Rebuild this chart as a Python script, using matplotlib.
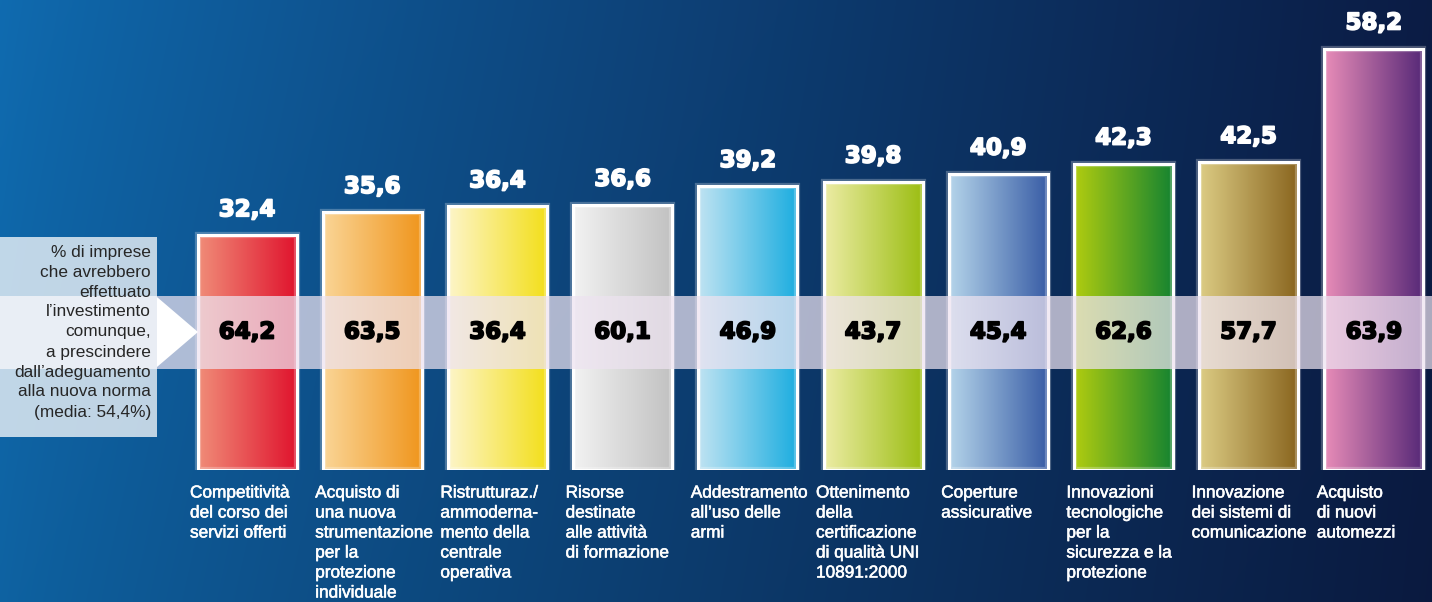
import numpy as np
import matplotlib.pyplot as plt
import matplotlib.patheffects as pe
from matplotlib.colors import to_rgb
from matplotlib.patches import Rectangle, Polygon
from matplotlib.transforms import blended_transform_factory

# data
categories = [
    "Competitività\ndel corso dei\nservizi offerti",
    "Acquisto di\nuna nuova\nstrumentazione\nper la\nprotezione\nindividuale",
    "Ristrutturaz./\nammoderna-\nmento della\ncentrale\noperativa",
    "Risorse\ndestinate\nalle attività\ndi formazione",
    "Addestramento\nall’uso delle\narmi",
    "Ottenimento\ndella\ncertificazione\ndi qualità UNI\n10891:2000",
    "Coperture\nassicurative",
    "Innovazioni\ntecnologiche\nper la\nsicurezza e la\nprotezione",
    "Innovazione\ndei sistemi di\ncomunicazione",
    "Acquisto\ndi nuovi\nautomezzi",
]
investment = [32.4, 35.6, 36.4, 36.6, 39.2, 39.8, 40.9, 42.3, 42.5, 58.2]
anyway = [64.2, 63.5, 36.4, 60.1, 46.9, 43.7, 45.4, 62.6, 57.7, 63.9]
side_note = ["% di imprese", "che avrebbero", "effettuato", "l’investimento",
             "comunque,", "a prescindere", "dall’adeguamento",
             "alla nuova norma", "(media: 54,4%)"]

# bar colours: light (left) -> dark (right)
bar_colors = [
    ("#f08c78", "#e0142e"),
    ("#fad596", "#f0961e"),
    ("#fdf5c8", "#f3df1c"),
    ("#f2f2f2", "#c2c2c2"),
    ("#bfe3f2", "#1eaee0"),
    ("#ececa4", "#9cbe14"),
    ("#b4d4ea", "#3a5ea6"),
    ("#b0cc10", "#168430"),
    ("#dccc84", "#8a6620"),
    ("#e88cb8", "#582a78"),
]

W, H = 1432, 602
fig = plt.figure(figsize=(W / 100, H / 100), dpi=100)

def fx(x):
    return x / W

def fy(y):
    return 1 - y / H

# background gradient
bg = fig.add_axes([0, 0, 1, 1])
bg.set_axis_off()
xs = np.linspace(0, 1, 300)
ys = np.linspace(0, 1, 120)
X, Y = np.meshgrid(xs, ys)
left = np.array([0.06, 0.42, 0.69])
right = np.array([0.045, 0.11, 0.27])
t = np.clip(X ** 0.85, 0, 1)[..., None]
img = left * (1 - t) + right * t
img = img * (1 - 0.08 * Y[..., None])
bg.imshow(img, extent=[0, 1, 1, 0], aspect="auto", interpolation="bicubic")
bg.set_xlim(0, 1)
bg.set_ylim(1, 0)

# bar axes: zero at y=470 px, 7.24 px per unit, bar pitch 125.2 px
px_unit = 7.24
pitch = 125.2
c0 = 247
ax = fig.add_axes([0, fy(470), 1, 470 / H])
ax.patch.set_alpha(0)
ax.set_axis_off()

width = 99 / pitch
idx = np.arange(len(investment))
for i, (v, (c1, c2)) in enumerate(zip(investment, bar_colors)):
    a = np.array(to_rgb(c1))
    b = np.array(to_rgb(c2))
    s = np.linspace(0, 1, 64)[:, None]
    grad = (a * (1 - s) + b * s)[None, :, :]
    rect = Rectangle((i - width / 2, 0), width, v, transform=ax.transData)
    im = ax.imshow(grad, extent=[i - width / 2, i + width / 2, 0, v],
                   aspect="auto", interpolation="bicubic", zorder=2)
    im.set_clip_path(rect)

ax.bar(idx, investment, width=width, fill=False, edgecolor="white",
       linewidth=4.5, alpha=0.25, zorder=3)
ax.bar(idx, investment, width=width, fill=False, edgecolor="white",
       linewidth=2.2, zorder=4)

ax.set_xlim(-c0 / pitch, (W - c0) / pitch)
ax.set_ylim(0, 470 / px_unit)

ftr = blended_transform_factory(ax.transData, fig.transFigure)

# horizontal band
band = Rectangle((0, fy(369)), 1, (369 - 296) / H, transform=fig.transFigure,
                 facecolor=(0.93, 0.89, 0.94), alpha=0.72, edgecolor="none",
                 zorder=5)
ax.add_artist(band)

# side box with arrow
box = Rectangle((0, fy(437)), fx(157), (437 - 237) / H, transform=fig.transFigure,
                facecolor="white", alpha=0.74, edgecolor="none", zorder=5)
ax.add_artist(box)
arrow = Polygon([(fx(157), fy(297)), (fx(157), fy(367)), (fx(198), fy(332))],
                closed=True, transform=fig.transFigure, facecolor="white",
                edgecolor="none", zorder=6)
ax.add_artist(arrow)
for k, line in enumerate(side_note):
    fig.text(fx(151), fy(252 + 20 * k), line, ha="right", va="center",
             fontsize=12.4, color="#262626", family="Liberation Sans", zorder=10)

# value labels
heavy_w = [pe.withStroke(linewidth=1.3, foreground="white")]
heavy_k = [pe.withStroke(linewidth=1.3, foreground="black")]
for i, v in enumerate(investment):
    ax.annotate(f"{v:.1f}".replace(".", ","), (i, v), xytext=(0, 18.5),
                textcoords="offset points", ha="center", va="center",
                fontsize=16.5, fontweight="bold", color="white",
                family="DejaVu Sans", zorder=10, path_effects=heavy_w)

for i, v in enumerate(anyway):
    ax.text(i, fy(332), f"{v:.1f}".replace(".", ","), transform=ftr,
            ha="center", va="center", fontsize=16.5, fontweight="bold",
            color="black", family="DejaVu Sans", zorder=10,
            path_effects=heavy_k)

# category labels
for i, lab in enumerate(categories):
    for k, line in enumerate(lab.split("\n")):
        ax.text(i - 57 / pitch, fy(493 + 20 * k), line, transform=ftr,
                ha="left", va="center", fontsize=12.4, color="white",
                family="Liberation Sans", zorder=10, clip_on=False,
                path_effects=[pe.withStroke(linewidth=0.4, foreground="white")])

fig.savefig("out.png", dpi=100)
